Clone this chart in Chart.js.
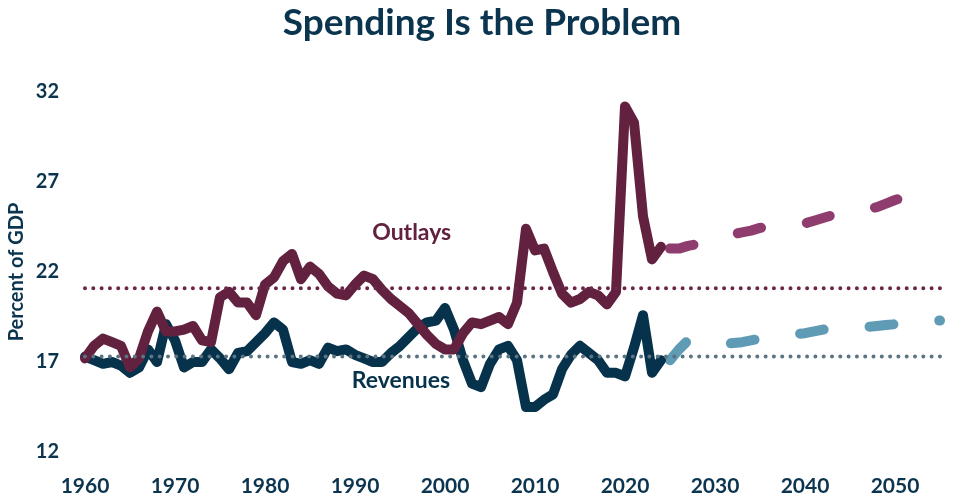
<!DOCTYPE html>
<html>
<head>
<meta charset="utf-8">
<script src="https://cdn.jsdelivr.net/npm/chart.js@4.4.1/dist/chart.umd.min.js"></script>
<style>
  html, body { margin: 0; padding: 0; background: #fff; }
  #wrap { width: 964px; height: 496px; }
</style>
</head>
<body>
<div id="wrap"><canvas id="chart"></canvas></div>
<script>
// historical data, percent of GDP, 1960-2024
const histStart = 1960;
const outlaysHist = [
  17.2, 17.9, 18.3, 18.1, 17.9, 16.7, 17.2, 18.7, 19.8, 18.7,
  18.7, 18.8, 19.0, 18.2, 18.1, 20.6, 20.9, 20.3, 20.3, 19.6,
  21.3, 21.7, 22.6, 23.0, 21.6, 22.3, 21.9, 21.2, 20.8, 20.7,
  21.3, 21.8, 21.6, 21.0, 20.5, 20.1, 19.7, 19.1, 18.5, 18.0,
  17.7, 17.7, 18.6, 19.2, 19.1, 19.3, 19.5, 19.1, 20.3, 24.4,
  23.2, 23.3, 22.0, 20.8, 20.3, 20.5, 20.9, 20.7, 20.2, 20.9,
  31.2, 30.3, 25.1, 22.7, 23.4
];
const revenuesHist = [
  17.3, 17.1, 16.9, 17.0, 16.8, 16.4, 16.7, 17.7, 17.0, 19.1,
  18.2, 16.7, 17.0, 17.0, 17.7, 17.2, 16.6, 17.5, 17.6, 18.1,
  18.6, 19.2, 18.8, 17.0, 16.9, 17.1, 16.9, 17.8, 17.6, 17.7,
  17.4, 17.2, 17.0, 17.0, 17.5, 17.9, 18.4, 18.9, 19.2, 19.3,
  20.0, 18.8, 17.1, 15.8, 15.6, 16.9, 17.7, 17.9, 17.1, 14.5,
  14.5, 14.9, 15.2, 16.6, 17.4, 17.9, 17.5, 17.1, 16.4, 16.4,
  16.2, 17.8, 19.6, 16.4, 17.1
];

// projections, 2025-2055
const projStart = 2025;
const outlaysProj = [
  23.3, 23.3, 23.45, 23.55, 23.6, 23.8, 23.9, 24.1, 24.2, 24.3,
  24.45, 24.5, 24.55, 24.6, 24.65, 24.7, 24.85, 25.0, 25.15, 25.25,
  25.35, 25.45, 25.5, 25.6, 25.8, 26.0, 26.15, 26.3, 26.4, 26.55,
  26.7
];
const revenuesProj = [
  17.1, 17.7, 18.2, 18.1, 18.0, 18.0, 18.0, 18.05, 18.1, 18.2,
  18.3, 18.35, 18.4, 18.5, 18.55, 18.6, 18.7, 18.8, 18.85, 18.9,
  18.9, 18.95, 18.95, 19.0, 19.05, 19.1, 19.15, 19.2, 19.25, 19.3,
  19.3
];

// long-run averages
const outlaysAvg = 21.1;
const revenuesAvg = 17.3;

const xMin = 1960;
const xMax = 2055;
const xTicks = [1960, 1970, 1980, 1990, 2000, 2010, 2020, 2030, 2040, 2050];
const yTicks = [12, 17, 22, 27, 32];

const navy = '#0b344f';
const FONT = 'Lato, "Open Sans", sans-serif';

function toPoints(start, values) {
  return values.map((v, i) => ({ x: start + i, y: v }));
}

function flatLine(v) {
  return [{ x: xMin, y: v }, { x: xMax, y: v }];
}

// title centred on the whole canvas, plus the series names next to the lines
const chartTexts = {
  id: 'chartTexts',
  afterDatasetsDraw(chart) {
    const ctx = chart.ctx;
    const xs = chart.scales.x;
    const ys = chart.scales.y;
    ctx.save();
    ctx.textAlign = 'center';
    ctx.textBaseline = 'middle';

    ctx.font = 'bold 37px ' + FONT;
    ctx.fillStyle = navy;
    ctx.fillText('Spending Is the Problem', chart.width / 2, 23);

    const items = [
      { text: 'Outlays', x: 1996.3, y: 24.2, color: '#62213f' },
      { text: 'Revenues', x: 1995.1, y: 15.95, color: '#06324b' }
    ];
    ctx.font = 'bold 23px ' + FONT;
    items.forEach(it => {
      ctx.fillStyle = it.color;
      ctx.fillText(it.text, xs.getPixelForValue(it.x), ys.getPixelForValue(it.y));
    });
    ctx.restore();
  }
};

const ctx = document.getElementById('chart').getContext('2d');

new Chart(ctx, {
  type: 'line',
  data: {
    datasets: [
      {
        label: 'Outlays average',
        data: flatLine(outlaysAvg),
        borderColor: '#6a2747',
        borderWidth: 4,
        borderDash: [0, 8.3],
        borderCapStyle: 'round'
      },
      {
        label: 'Revenues average',
        data: flatLine(revenuesAvg),
        borderColor: '#5b7383',
        borderWidth: 4,
        borderDash: [0, 8.3],
        borderCapStyle: 'round'
      },
      {
        label: 'Outlays',
        data: toPoints(histStart, outlaysHist),
        borderColor: '#62213f',
        borderWidth: 10
      },
      {
        label: 'Outlays projected',
        data: toPoints(projStart, outlaysProj),
        borderColor: '#8f3d6f',
        borderWidth: 10,
        borderDash: [24, 46]
      },
      {
        label: 'Revenues',
        data: toPoints(histStart, revenuesHist),
        borderColor: '#06324b',
        borderWidth: 10
      },
      {
        label: 'Revenues projected',
        data: toPoints(projStart, revenuesProj),
        borderColor: '#5f9bb4',
        borderWidth: 10,
        borderDash: [24, 46]
      }
    ]
  },
  options: {
    responsive: true,
    maintainAspectRatio: false,
    animation: false,
    layout: { padding: { left: 0, right: 24, top: 92, bottom: 0 } },
    elements: {
      point: { radius: 0 },
      line: { tension: 0, borderCapStyle: 'round', borderJoinStyle: 'round', fill: false }
    },
    datasets: { line: { clip: false } },
    plugins: {
      legend: { display: false },
      tooltip: { enabled: false },
      title: { display: false }
    },
    scales: {
      x: {
        type: 'linear',
        min: xMin,
        max: xMax,
        grid: { display: false, drawTicks: false },
        border: { display: false },
        ticks: {
          color: navy,
          padding: 22,
          font: { family: FONT, size: 21, weight: 'bold' },
          callback: v => String(v)
        },
        afterBuildTicks: s => { s.ticks = xTicks.map(v => ({ value: v })); },
        afterFit: s => { s.height = 44; }
      },
      y: {
        min: 12,
        max: 32,
        grid: { display: false, drawTicks: false },
        border: { display: false },
        ticks: {
          color: navy,
          padding: 26,
          font: { family: FONT, size: 20, weight: 'bold' }
        },
        afterBuildTicks: s => { s.ticks = yTicks.map(v => ({ value: v })); },
        afterFit: s => { s.width = 85; },
        title: {
          display: true,
          text: 'Percent of GDP',
          color: navy,
          font: { family: FONT, size: 20, weight: 'bold' },
          padding: { top: 5, bottom: 0 }
        }
      }
    }
  },
  plugins: [chartTexts]
});
</script>
</body>
</html>
